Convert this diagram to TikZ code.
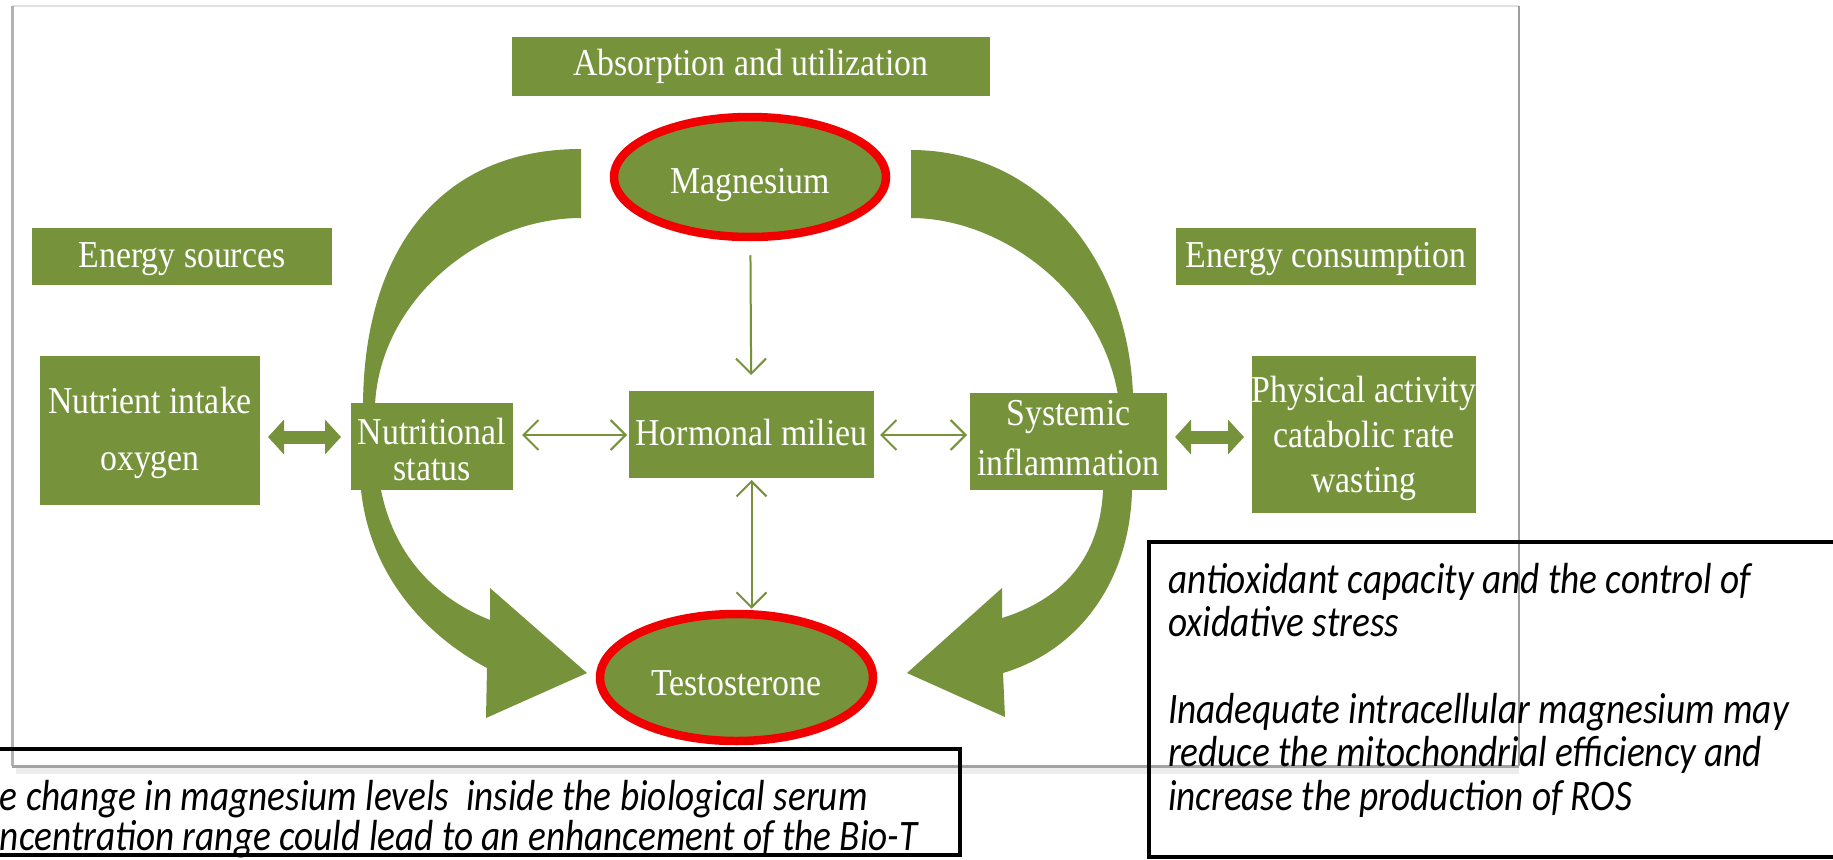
\documentclass[tikz,border=0pt]{standalone}
\usepackage{fontspec}
\setmainfont{Liberation Serif}
\newfontfamily\calibfont{Carlito}
\usepackage{graphicx}
\usetikzlibrary{shapes.geometric,arrows.meta}
\definecolor{mygreen}{RGB}{118,147,60}
\definecolor{ringred}{RGB}{240,0,0}
\newcommand{\gtxt}[2]{\fontsize{38}{#1}\selectfont\scalebox{0.89}[1]{\begin{tabular}[t]{@{}c@{}}#2\end{tabular}}}
\newcommand{\ctxt}[3]{\scalebox{0.857}[1]{\parbox[t]{#1}{\fontsize{43.5}{#2}\selectfont #3}}}
\begin{document}
\begin{tikzpicture}[x=1pt,y=-1pt,
  >={Straight Barb[length=15pt,width=30pt]},
  gbox/.style={rectangle, fill=mygreen, draw=none, inner sep=0pt, outer sep=0pt},
  glabel/.style={anchor=base, inner sep=0pt, outer sep=0pt, text=white},
  gring/.style={ellipse, fill=mygreen, draw=ringred, line width=8.5pt, inner sep=0pt},
  thinarr/.style={draw=mygreen, line width=2pt},
  thickarr/.style={draw=mygreen, line width=13pt, {Triangle[length=16pt,width=34pt]}-{Triangle[length=16pt,width=34pt]}},
  textbox/.style={rectangle, draw=black, line width=4.5pt, inner sep=0pt, outer sep=0pt, anchor=north west},
  boxtext/.style={anchor=base west, inner sep=0pt, outer sep=0pt, font=\calibfont\itshape, text=black}
]
\useasboundingbox (0,0) rectangle (1833,859);
\fill[white] (0,0) rectangle (1833,859);

% figure frame
\fill[white] (12,6) rectangle (1519,766);
\draw[line width=7pt, black!7] (16,770) -- (1519,770);
\draw[line width=2pt, black!12] (12,6) -- (1519,6);
\draw[line width=3pt, black!30] (12,6) -- (12,766);
\draw[line width=2.5pt, black!38] (1519,6) -- (1519,766);
\draw[line width=3pt, black!36] (12,766) -- (1519,766);

% big curved arrows
\fill[mygreen] (581,149) .. controls (440,149) and (364,250) .. (363,405) -- (361,490)
  .. controls (370,575) and (425,635) .. (487,668) -- (486,718) -- (587,673) -- (490,588) -- (490,620)
  .. controls (440,600) and (395,560) .. (381,490) -- (375,405)
  .. controls (380,300) and (480,218) .. (581,218) -- cycle;
\fill[mygreen] (911,150) .. controls (1040,150) and (1128,260) .. (1133,395) -- (1132,490)
  .. controls (1130,580) and (1080,650) .. (1003,673) -- (1005,717) -- (907,673) -- (1002,588) -- (1002,618)
  .. controls (1060,600) and (1100,560) .. (1103,490) -- (1118,395)
  .. controls (1100,290) and (1000,218) .. (911,218) -- cycle;

% boxes
\node[gbox, minimum width=478pt, minimum height=59pt] (absorb) at (751,66.5) {};
\node[gbox, minimum width=300pt, minimum height=57pt] (esrc) at (182,256.5) {};
\node[gbox, minimum width=300pt, minimum height=57pt] (econs) at (1326,256.5) {};
\node[gbox, minimum width=220pt, minimum height=149pt] (nutr) at (150,430.5) {};
\node[gbox, minimum width=162pt, minimum height=87pt] (nstat) at (432,446.5) {};
\node[gbox, minimum width=245pt, minimum height=87pt] (horm) at (751.5,434.5) {};
\node[gbox, minimum width=197pt, minimum height=97pt] (syst) at (1068.5,441.5) {};
\node[gbox, minimum width=224pt, minimum height=157pt] (phys) at (1364,434.5) {};
\node[gring, minimum width=272pt, minimum height=120pt] (mg) at (750,177) {};
\node[gring, minimum width=273pt, minimum height=127pt] (test) at (736.5,677.5) {};

% labels
\node[glabel] (absorbT) at (751,75) {\gtxt{38}{Absorption and utilization}};
\node[glabel] (esrcT) at (182,267) {\gtxt{38}{Energy sources}};
\node[glabel] (econsT) at (1326,267) {\gtxt{38}{Energy consumption}};
\node[glabel] (nutrT) at (150,413) {\gtxt{57}{Nutrient intake\\oxygen}};
\node[glabel] (nstatT) at (432,444) {\gtxt{36}{Nutritional\\status}};
\node[glabel] (hormT) at (751.5,445) {\gtxt{38}{Hormonal milieu}};
\node[glabel] (systT) at (1068.5,425) {\gtxt{50}{Systemic\\inflammation}};
\node[glabel] (physT) at (1364,402) {\gtxt{45}{Physical activity\\catabolic rate\\wasting}};
\node[glabel] (mgT) at (750,193) {\gtxt{38}{Magnesium}};
\node[glabel] (testT) at (736.5,695) {\gtxt{38}{Testosterone}};

% connectors
\coordinate (yrow) at (0,435);
\coordinate (yrow2) at (0,437);
\draw[thinarr, ->, shorten <=14pt, shorten >=16pt] (mg) -- (horm);
\draw[thinarr, <->, shorten <=2pt, shorten >=1pt] (horm.south) -- (horm.south |- test.north);
\draw[thinarr, <->, shorten <=9pt, shorten >=2pt] (nstat.east |- yrow) -- (horm.west |- yrow);
\draw[thinarr, <->, shorten <=6pt, shorten >=3pt] (horm.east |- yrow) -- (syst.west |- yrow);
\draw[thickarr, shorten <=8pt, shorten >=10pt] (nutr.east |- yrow2) -- (nstat.west |- yrow2);
\draw[thickarr, shorten <=8pt, shorten >=8pt] (syst.east |- yrow2) -- (phys.west |- yrow2);

% overlaid text boxes
\node[textbox, minimum width=975pt, minimum height=106pt] (lbox) at (-15,749) {};
\node[boxtext] (ltext) at (0,810) {\ctxt{1200pt}{40pt}{e change in magnesium levels \ inside the biological serum\\ncentration range could lead to an enhancement of the Bio-T}};
\node[textbox, minimum width=720pt, minimum height=315pt] (rbox) at (1149,542) {};
\node[boxtext] (rtext) at (1168,593) {\ctxt{800pt}{43.4pt}{antioxidant capacity and the control of\\oxidative stress\\[43.4pt]Inadequate intracellular magnesium may\\reduce the mitochondrial efficiency and\\increase the production of ROS}};
\end{tikzpicture}
\end{document}
